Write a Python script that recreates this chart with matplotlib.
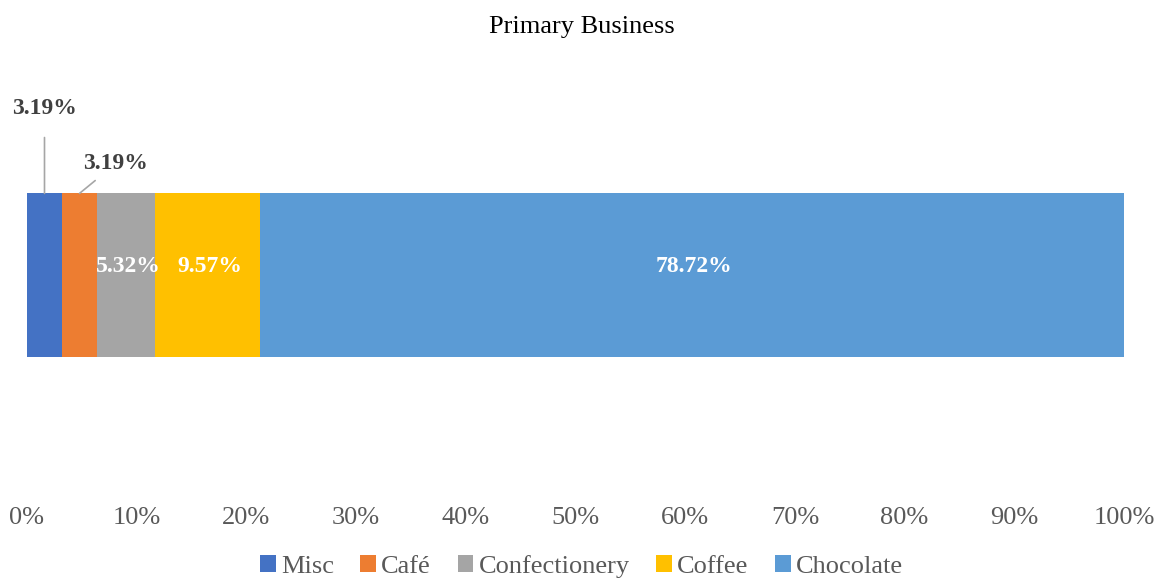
import matplotlib.pyplot as plt
from matplotlib.patches import Patch

plt.rcParams['font.family'] = ['Liberation Serif', 'DejaVu Serif']

# Share of members by primary business (%)
categories = ["Misc", "Café", "Confectionery", "Coffee", "Chocolate"]
shares = [3.19, 3.19, 5.32, 9.57, 78.72]
colors = ["#4472C4", "#ED7D31", "#A5A5A5", "#FFC000", "#5B9BD5"]
ticks = [0, 10, 20, 30, 40, 50, 60, 70, 80, 90, 100]

fig = plt.figure(figsize=(11.63, 5.79), dpi=100)
ax = fig.add_axes([27 / 1163, 82 / 579, 1097 / 1163, 415 / 579])

bar_y = 0.535
bar_h = 0.393
left = 0
mids = []
for cat, val, col in zip(categories, shares, colors):
    ax.barh(bar_y, val, left=left, height=bar_h, color=col, label=cat)
    mids.append(left + val / 2)
    left += val

ax.set_xlim(0, 100)
ax.set_ylim(0, 1)
ax.set_xticks(ticks)
ax.set_xticklabels([f"{t}%" for t in ticks], fontsize=19, color="#595959")
ax.tick_params(axis="x", length=0, pad=7)
ax.set_yticks([])
for s in ax.spines.values():
    s.set_visible(False)

bar_top = bar_y + bar_h / 2

# small segments get labels above the bar with leader lines
ax.annotate(f"{shares[0]:.2f}%", xy=(mids[0], bar_top), xytext=(mids[0], 0.935),
            ha="center", va="center", fontsize=17, fontweight="bold", color="#404040",
            arrowprops=dict(arrowstyle="-", color="#A6A6A6", lw=1.2, shrinkA=11, shrinkB=0))
ax.annotate(f"{shares[1]:.2f}%", xy=(mids[1], bar_top), xytext=(mids[1] + 3.3, 0.803),
            ha="center", va="center", fontsize=17, fontweight="bold", color="#404040",
            arrowprops=dict(arrowstyle="-", color="#A6A6A6", lw=1.2, shrinkA=4, shrinkB=0))

for i in range(2, len(shares)):
    ax.text(mids[i] + 0.2, bar_y + 0.02, f"{shares[i]:.2f}%", ha="center", va="center",
            fontsize=17, fontweight="bold", color="white")

fig.suptitle("Primary Business", y=0.972, fontsize=19, color="black")

handles = [Patch(facecolor=c, label=n) for n, c in zip(categories, colors)]
fig.legend(handles=handles, loc="center", bbox_to_anchor=(0.5, 0.022), ncol=5,
           frameon=False, fontsize=19, labelcolor="#595959", handlelength=0.6,
           handleheight=0.6, handletextpad=0.2, columnspacing=1.0)

fig.savefig("out.png", dpi=100)
